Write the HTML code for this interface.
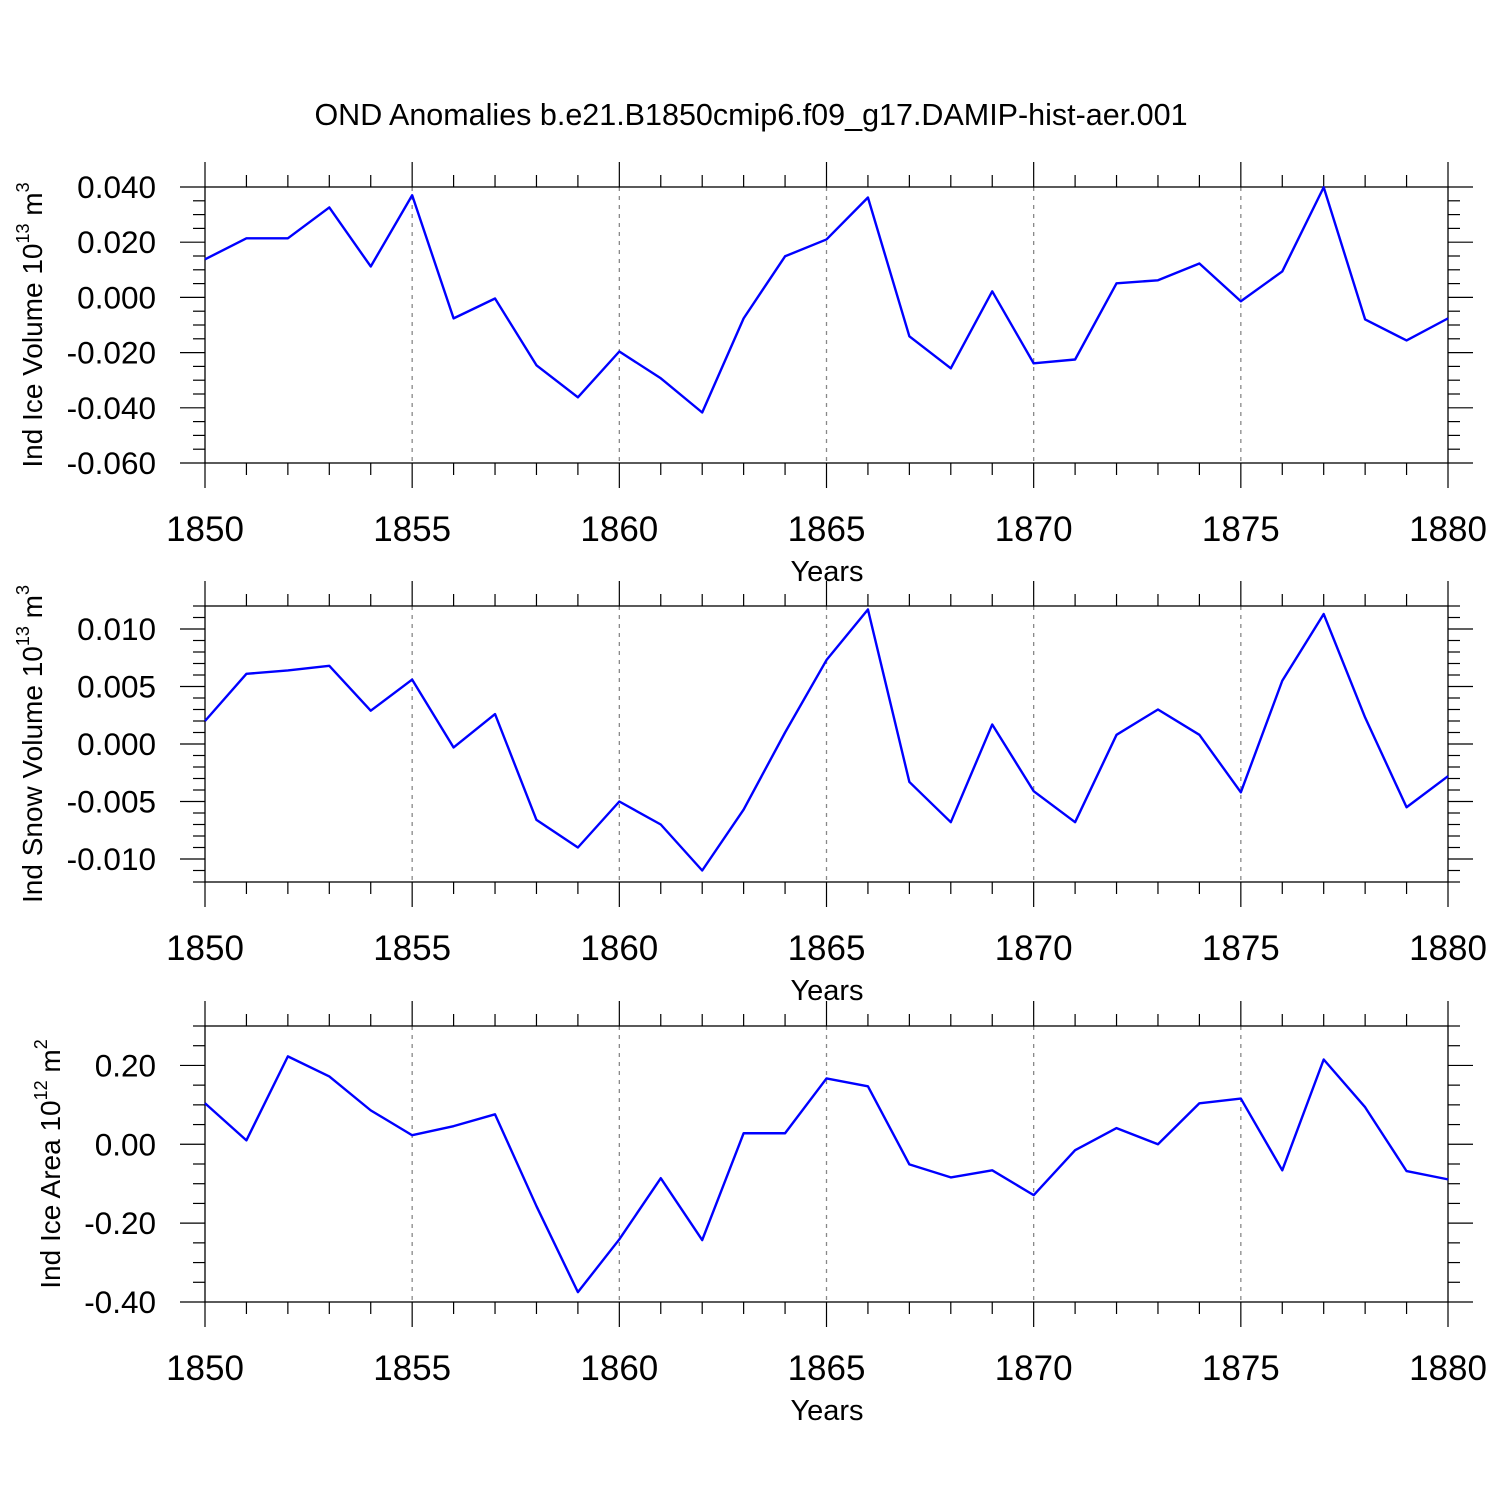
<!DOCTYPE html>
<html><head><meta charset="utf-8"><style>
body{margin:0;background:#fff}
svg{display:block;font-family:"Liberation Sans",sans-serif}
</style></head><body>
<svg id="c" width="1500" height="1500">
<text x="751" y="125" font-size="30.5" text-anchor="middle">OND Anomalies b.e21.B1850cmip6.f09_g17.DAMIP-hist-aer.001</text>
</svg>
<script>
const years = [1850,1851,1852,1853,1854,1855,1856,1857,1858,1859,1860,1861,1862,1863,1864,1865,1866,1867,1868,1869,1870,1871,1872,1873,1874,1875,1876,1877,1878,1879,1880];
const iceVolume = [0.0138,0.0214,0.0214,0.0326,0.0112,0.037,-0.0076,-0.0004,-0.0246,-0.0362,-0.0196,-0.0293,-0.0417,-0.0076,0.0149,0.021,0.0362,-0.0141,-0.0257,0.0022,-0.0239,-0.0225,0.0051,0.0062,0.0123,-0.0014,0.0094,0.0399,-0.008,-0.0156,-0.0076];
const snowVolume = [0.0020,0.0061,0.0064,0.0068,0.0029,0.0056,-0.0003,0.0026,-0.0066,-0.0090,-0.0050,-0.0070,-0.0110,-0.0057,0.0010,0.0073,0.0117,-0.0033,-0.0068,0.0017,-0.0041,-0.0068,0.0008,0.0030,0.0008,-0.0042,0.0055,0.0113,0.0023,-0.0055,-0.0028];
const iceArea = [0.104,0.010,0.223,0.172,0.086,0.023,0.046,0.076,-0.157,-0.375,-0.241,-0.086,-0.243,0.028,0.028,0.167,0.147,-0.051,-0.084,-0.066,-0.129,-0.015,0.041,0.000,0.104,0.116,-0.066,0.215,0.094,-0.068,-0.089];
const xTicks = [1850,1855,1860,1865,1870,1875,1880];
const iceVolTicks = [0.04,0.02,0,-0.02,-0.04,-0.06];
const iceVolLabels = ["0.040","0.020","0.000","-0.020","-0.040","-0.060"];
const snowTicks = [0.01,0.005,0,-0.005,-0.01];
const snowLabels = ["0.010","0.005","0.000","-0.005","-0.010"];
const areaTicks = [0.2,0,-0.2,-0.4];
const areaLabels = ["0.20","0.00","-0.20","-0.40"];

const svg=document.getElementById('c');
const NS='http://www.w3.org/2000/svg';
function el(t,a,p){const e=document.createElementNS(NS,t);for(const k in a)e.setAttribute(k,a[k]);(p||svg).appendChild(e);return e;}
const X0=205,X1=1448;
const xs=y=>X0+(y-1850)/30*(X1-X0);

function panel(name,top,bot,ymin,ymax,minorStep,vals,ticks,labels,ytitle,sup,unit,usup,tx){
  const g=el('g',{});
  
  
  const ys=v=>bot-(v-ymin)/(ymax-ymin)*(bot-top);
  xTicks.slice(1,-1).forEach(t=>{const l=el('line',{x1:xs(t),x2:xs(t),y1:top,y2:bot,stroke:'#888','stroke-width':1.3,'stroke-dasharray':'4,5'},g);
    });
  const fr=el('rect',{x:X0,y:top,width:X1-X0,height:bot-top,fill:'none',stroke:'#000','stroke-width':1.3},g);
  
  for(let y=1850;y<=1880;y++){const L=(y%5==0)?25:12;const x=xs(y);
    el('line',{x1:x,x2:x,y1:top,y2:top-L,stroke:'#000','stroke-width':1.2},g);
    el('line',{x1:x,x2:x,y1:bot,y2:bot+L,stroke:'#000','stroke-width':1.2},g);}
  const n=Math.round((ymax-ymin)/minorStep);
  for(let i=0;i<=n;i++){const v=ymin+i*minorStep;const y=ys(v);
    const maj=ticks.some(t=>Math.abs(t-v)<minorStep/10);const L=maj?25:12;
    el('line',{x1:X0,x2:X0-L,y1:y,y2:y,stroke:'#000','stroke-width':1.2},g);
    el('line',{x1:X1,x2:X1+L,y1:y,y2:y,stroke:'#000','stroke-width':1.2},g);}
  ticks.forEach((t,i)=>{const tl=el('text',{x:156,y:ys(t)+11,'font-size':31.5,'text-anchor':'end'},g);tl.textContent=labels[i];
    });
  xTicks.forEach(t=>{const tl=el('text',{x:xs(t),y:bot+78,'font-size':35,'text-anchor':'middle'},g);tl.textContent=t;
    });
  const xt=el('text',{x:827,y:bot+118,'font-size':29,'text-anchor':'middle'},g);xt.textContent='Years';
  
  const cy=(top+bot)/2;
  const yt=el('text',{x:0,y:0,'font-size':28,'text-anchor':'middle',transform:`translate(${tx},${cy}) rotate(-90)`},g);
  
  yt.appendChild(document.createTextNode(ytitle+' 10'));
  const s=document.createElementNS(NS,'tspan');s.setAttribute('font-size','18');s.setAttribute('dy','-13');s.textContent=sup;yt.appendChild(s);
  const s2=document.createElementNS(NS,'tspan');s2.setAttribute('dy','13');s2.textContent=' '+unit;yt.appendChild(s2);
  const s3=document.createElementNS(NS,'tspan');s3.setAttribute('font-size','18');s3.setAttribute('dy','-13');s3.textContent=usup;yt.appendChild(s3);
  const pts=vals.map((v,i)=>xs(years[i])+','+ys(v)).join(' ');
  const pl=el('polyline',{points:pts,fill:'none',stroke:'#0000ff','stroke-width':2.4,'stroke-linejoin':'round'},g);
  
}
panel('ice-volume-panel',187,463,-0.06,0.04,0.005,iceVolume,iceVolTicks,iceVolLabels,'Ind Ice Volume','13','m','3',42);
panel('snow-volume-panel',606,882,-0.012,0.012,0.001,snowVolume,snowTicks,snowLabels,'Ind Snow Volume','13','m','3',42);
panel('ice-area-panel',1026,1302,-0.4,0.3,0.05,iceArea,areaTicks,areaLabels,'Ind Ice Area','12','m','2',60);
</script>
</body></html>
